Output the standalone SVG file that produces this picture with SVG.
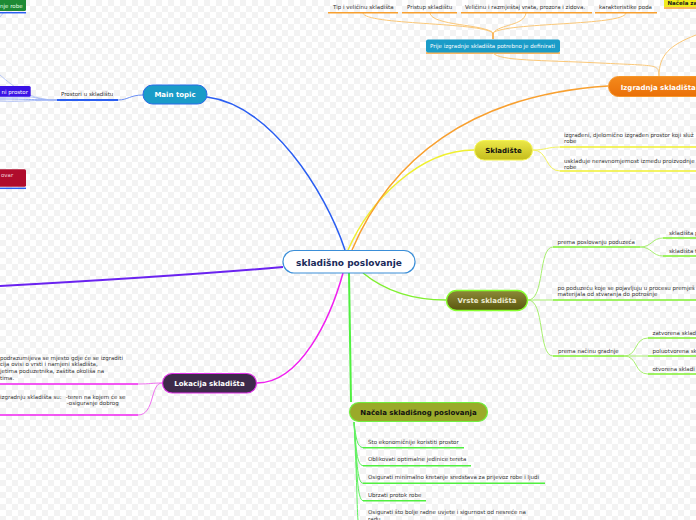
<svg xmlns="http://www.w3.org/2000/svg" width="696" height="520" viewBox="0 0 696 520">
<defs>
<pattern id="grid" width="12" height="12" patternUnits="userSpaceOnUse">
<rect width="12" height="12" fill="#ffffff"/>
<rect x="0" y="0" width="6" height="6" fill="#f3f3f3"/>
<rect x="6" y="6" width="6" height="6" fill="#f3f3f3"/>
</pattern>
<linearGradient id="gYel" x1="0" y1="0" x2="0" y2="1"><stop offset="0" stop-color="#ece848"/><stop offset="1" stop-color="#c4bc1c"/></linearGradient>
<linearGradient id="gOl" x1="0" y1="0" x2="0" y2="1"><stop offset="0" stop-color="#8c8a38"/><stop offset="1" stop-color="#5a560e"/></linearGradient>
<linearGradient id="gOr" x1="0" y1="0" x2="0" y2="1"><stop offset="0" stop-color="#f48a1c"/><stop offset="1" stop-color="#ea7008"/></linearGradient>
</defs>
<style>
.node{font-family:"DejaVu Sans",Verdana,sans-serif;font-weight:bold;font-size:7px}
.t{font-family:"DejaVu Sans",Verdana,sans-serif;font-size:5.5px;fill:#333}
.c{fill:none}
</style>
<rect width="696" height="520" fill="url(#grid)"/>

<g id="connectors">
<!-- main branches -->
<path class="c" d="M345,250 C325,190 270,105 207,97" stroke="#2a5ef2" stroke-width="1.5"/>
<path class="c" d="M283,267 C190,275 90,281 0,286" stroke="#6a22f0" stroke-width="2"/>
<path class="c" d="M348,250 C370,200 420,150 474,150" stroke="#f0f030" stroke-width="1.5"/>
<path class="c" d="M352,250 C390,160 470,95 608,86" stroke="#f8a030" stroke-width="1.5"/>
<path class="c" d="M363,273 C390,295 420,300 446,300" stroke="#80f030" stroke-width="1.5"/>
<path class="c" d="M349,273 L351,402" stroke="#50f040" stroke-width="2"/>
<path class="c" d="M343,273 C330,320 300,383 257,383" stroke="#f020f0" stroke-width="1.5"/>

<!-- Main topic children -->
<path class="c" d="M143,95 C130,95 128,100 118,100" stroke="#6a8ef5" stroke-width="1"/>
<path class="c" d="M57,100 L118,100" stroke="#2a5ef2" stroke-width="2"/>
<path class="c" d="M57,100 C40,100 35,97 30,97 L0,97" stroke="#9ab0f5" stroke-width="0.8"/>
<path class="c" d="M57,100 C35,100 20,102 0,101" stroke="#9ab0f5" stroke-width="0.8"/>
<path class="c" d="M57,100 C35,100 30,99 0,99" stroke="#7a98f5" stroke-width="0.8"/>
<path class="c" d="M57,100 C30,100 15,88 0,75" stroke="#a8bcf5" stroke-width="0.8"/>
<path class="c" d="M0,17 L4,12" stroke="#a8bcf5" stroke-width="0.8"/>
<line x1="0" y1="12.7" x2="26" y2="12.7" stroke="#2a5ef2" stroke-width="1.5"/>
<line x1="0" y1="188.3" x2="26" y2="188.3" stroke="#2a5ef2" stroke-width="1.5"/>

<!-- Izgradnja children -->
<path class="c" d="M363,13 C365,25 480,22 493,33" stroke="#fbc878" stroke-width="1"/>
<path class="c" d="M430,13 C432,26 485,24 493,33" stroke="#fbc878" stroke-width="1"/>
<path class="c" d="M526,13 C524,26 500,24 493,33" stroke="#fbc878" stroke-width="1"/>
<path class="c" d="M626,13 C624,26 505,22 493,33" stroke="#fbc878" stroke-width="1"/>
<path class="c" d="M493,33 L493,39" stroke="#f8a030" stroke-width="1.5"/>
<line x1="328" y1="12.7" x2="398" y2="12.7" stroke="#f8a030" stroke-width="1.5"/>
<line x1="402" y1="12.7" x2="457" y2="12.7" stroke="#f8a030" stroke-width="1.5"/>
<line x1="461" y1="12.7" x2="592" y2="12.7" stroke="#f8a030" stroke-width="1.5"/>
<line x1="595" y1="12.7" x2="657" y2="12.7" stroke="#f8a030" stroke-width="1.5"/>
<line x1="426" y1="53" x2="560" y2="53" stroke="#f8a030" stroke-width="1.5"/>
<line x1="664" y1="8" x2="696" y2="8" stroke="#f8a030" stroke-width="1.5"/>
<path class="c" d="M493,53 C500,61 540,60 600,63 S658,64 659,76" stroke="#fbc878" stroke-width="1"/>
<path class="c" d="M659,76 C659,55 670,45 696,35" stroke="#fbc878" stroke-width="1"/>

<!-- Skladište children -->
<path class="c" d="M533,150 C545,150 548,147 560,147" stroke="#f4f460" stroke-width="1"/>
<path class="c" d="M533,150 C548,150 545,171 560,171" stroke="#f4f460" stroke-width="1"/>
<line x1="560" y1="147" x2="696" y2="147" stroke="#f0f030" stroke-width="1.5"/>
<line x1="560" y1="171" x2="696" y2="171" stroke="#f0f030" stroke-width="1.5"/>

<!-- Vrste children -->
<path class="c" d="M528,300 C545,300 538,247 553,247" stroke="#a8f070" stroke-width="1"/>
<path class="c" d="M528,300 L553,300" stroke="#a8f070" stroke-width="1"/>
<path class="c" d="M528,300 C545,300 538,356 553,356" stroke="#a8f070" stroke-width="1"/>
<line x1="553" y1="247" x2="640" y2="247" stroke="#80f030" stroke-width="1.5"/>
<line x1="553" y1="300" x2="696" y2="300" stroke="#80f030" stroke-width="1.5"/>
<line x1="553" y1="356" x2="624" y2="356" stroke="#80f030" stroke-width="1.5"/>
<path class="c" d="M640,247 C652,247 652,238 663,238" stroke="#a8f070" stroke-width="1"/>
<path class="c" d="M640,247 C652,247 652,256 663,256" stroke="#a8f070" stroke-width="1"/>
<line x1="663" y1="238" x2="696" y2="238" stroke="#80f030" stroke-width="1.5"/>
<line x1="663" y1="256" x2="696" y2="256" stroke="#80f030" stroke-width="1.5"/>
<path class="c" d="M624,356 C638,356 634,338 648,338" stroke="#a8f070" stroke-width="1"/>
<path class="c" d="M624,356 L648,356" stroke="#a8f070" stroke-width="1"/>
<path class="c" d="M624,356 C638,356 634,374 648,374" stroke="#a8f070" stroke-width="1"/>
<line x1="648" y1="338" x2="696" y2="338" stroke="#80f030" stroke-width="1.5"/>
<line x1="648" y1="356" x2="696" y2="356" stroke="#80f030" stroke-width="1.5"/>
<line x1="648" y1="374" x2="696" y2="374" stroke="#80f030" stroke-width="1.5"/>

<!-- Lokacija children -->
<path class="c" d="M138,384 C150,384 152,383 162,383" stroke="#f070f0" stroke-width="1"/>
<path class="c" d="M138,415 C155,415 150,383 162,383" stroke="#f070f0" stroke-width="1"/>
<line x1="0" y1="384" x2="138" y2="384" stroke="#f020f0" stroke-width="1.5"/>
<line x1="0" y1="415" x2="138" y2="415" stroke="#f020f0" stroke-width="1.5"/>

<!-- Načela children -->
<path class="c" d="M354,422 C356,438 357,447 363,447.7" stroke="#60f060" stroke-width="1"/>
<path class="c" d="M354,422 C356,450 357,465 363,465.7" stroke="#60f060" stroke-width="1"/>
<path class="c" d="M354,422 C357,460 357,483 363,483.3" stroke="#60f060" stroke-width="1"/>
<path class="c" d="M354,422 C357,470 357,500 363,500.7" stroke="#60f060" stroke-width="1"/>
<path class="c" d="M354,422 C357,480 357,510 358,520" stroke="#60f060" stroke-width="1"/>
<line x1="363" y1="447.7" x2="464" y2="447.7" stroke="#50f040" stroke-width="1.5"/>
<line x1="363" y1="465.7" x2="471" y2="465.7" stroke="#50f040" stroke-width="1.5"/>
<line x1="363" y1="483.3" x2="545" y2="483.3" stroke="#50f040" stroke-width="1.5"/>
<line x1="363" y1="500.7" x2="426" y2="500.7" stroke="#50f040" stroke-width="1.5"/>
</g>

<g id="central">
<rect x="283" y="250.5" width="132" height="22.5" rx="11" fill="#ffffff" stroke="#3a8ed8" stroke-width="1.2"/>
<text x="349" y="265.5" text-anchor="middle" class="node" style="font-size:9px" fill="#1a2a5a">skladišno poslovanje</text>
</g>

<g id="main-topic">
<rect x="143" y="85" width="64" height="19" rx="9.5" fill="#1a9cc8" stroke="#2a6ae8" stroke-width="1"/>
<text x="175" y="97" text-anchor="middle" class="node" fill="#ffffff">Main topic</text>
</g>
<g id="prostori">
<text x="61" y="96" class="t">Prostori u skladištu</text>
</g>
<g id="node-nje-robe">
<rect x="-5" y="-2" width="31" height="13" rx="1.5" fill="#1e8a34"/>
<text x="0" y="8" class="t" fill="#e8ffe8" style="fill:#e8ffe8">nje robe</text>
</g>
<g id="node-ni-prostor">
<rect x="-5" y="86" width="35.7" height="10.7" rx="1.5" fill="#3a12e6"/>
<text x="1.5" y="94" class="t" style="fill:#ffffff">ni prostor</text>
</g>
<g id="node-ovar">
<rect x="-5" y="169.3" width="31" height="17.4" rx="1.5" fill="#b00c2c"/>
<text x="1" y="176.5" class="t" style="fill:#f4d0d8">ovar</text>
</g>

<g id="izgradnja">
<rect x="608.5" y="76.5" width="110" height="20" rx="10" fill="url(#gOr)" stroke="#f6962a" stroke-width="1"/>
<text x="620.7" y="89.5" class="node" fill="#ffffff">Izgradnja skladišta</text>
</g>
<g id="prije">
<rect x="426" y="39.5" width="134" height="13" rx="2" fill="#1a9cc8"/>
<text x="430" y="48" class="t" style="fill:#ffffff">Prije izgradnje skladišta potrebno je definirati</text>
</g>
<g id="tip"><text x="333" y="8.5" class="t">Tip i veličinu skladišta</text></g>
<g id="pristup"><text x="407" y="8.5" class="t">Pristup skladištu</text></g>
<g id="velicinu"><text x="465" y="8.5" class="t">Veličinu i razmještaj vrata, prozora i zidova.</text></g>
<g id="karakteristike"><text x="599" y="8.5" class="t">karakteristike poda</text></g>
<g id="nacela-za">
<rect x="664" y="-3" width="40" height="10" fill="#f0ec1c"/>
<text x="667.5" y="5" class="t" style="fill:#1a1a1a;font-weight:bold">Načela za</text>
</g>

<g id="skladiste">
<rect x="474.5" y="140.5" width="58" height="19.5" rx="9.7" fill="url(#gYel)" stroke="#f6f650" stroke-width="1"/>
<text x="503.5" y="153" text-anchor="middle" class="node" fill="#111111">Skladište</text>
</g>
<g id="izgradeni">
<text x="564" y="137" class="t">izgrađeni, djelomično izgrađen prostor koji služ</text>
<text x="564" y="143.3" class="t">robe</text>
</g>
<g id="uskladuje">
<text x="564" y="162.5" class="t">usklađuje neravnomjernost između proizvodnje</text>
<text x="564" y="168.5" class="t">robe</text>
</g>

<g id="vrste">
<rect x="446.5" y="290.5" width="81" height="20" rx="10" fill="url(#gOl)" stroke="#88ff30" stroke-width="1.3"/>
<text x="487" y="303" text-anchor="middle" class="node" fill="#ecead0">Vrste skladišta</text>
</g>
<g id="poslovanju"><text x="557.5" y="243.5" class="t">prema poslovanju poduzeća</text></g>
<g id="skl-p"><text x="669" y="234.5" class="t">skladišta p</text></g>
<g id="skl-t"><text x="669" y="253" class="t">skladišta t</text></g>
<g id="poduzecu">
<text x="557.5" y="290" class="t">po poduzeću koje se pojavljuju u procesu premješ</text>
<text x="557.5" y="296" class="t">materijala od stvaranja do potrošnje</text>
</g>
<g id="gradnje"><text x="558" y="352.5" class="t">prema načinu gradnje</text></g>
<g id="zatvorena"><text x="652.5" y="334.5" class="t">zatvorena sklad</text></g>
<g id="poluotvorena"><text x="652.5" y="352.5" class="t">poluotvorena sk</text></g>
<g id="otvorena"><text x="652.5" y="370.5" class="t">otvorena skladi</text></g>

<g id="lokacija">
<rect x="162.5" y="373.5" width="94" height="19.5" rx="9.7" fill="#3d2a4a" stroke="#e030e8" stroke-width="1.2"/>
<text x="209.5" y="386" text-anchor="middle" class="node" fill="#ffffff">Lokacija skladišta</text>
</g>
<g id="lok-opis">
<text x="0" y="359.5" class="t">podrazumijeva se mjesto gdje će se izgraditi</text>
<text x="0" y="366.3" class="t">cija ovisi o vrsti i namjeni skladišta,</text>
<text x="0" y="373.1" class="t">jetima poduzetnika, zaštita okoliša na</text>
<text x="0" y="379.9" class="t">tima.</text>
</g>
<g id="lok-uvjeti">
<text x="0" y="399" class="t">izgradnju skladišta su:</text>
<text x="65.7" y="399" class="t">-teren na kojem će se</text>
<text x="66.7" y="405" class="t">-osiguranje dobrog</text>
</g>

<g id="nacela">
<rect x="349.5" y="402.5" width="138" height="19" rx="9.5" fill="#9aaa2a" stroke="#70f040" stroke-width="1.2"/>
<text x="418.5" y="415" text-anchor="middle" class="node" fill="#111111">Načela skladišnog poslovanja</text>
</g>
<g id="n1"><text x="368" y="443.5" class="t">Što ekonomičnije koristiti prostor</text></g>
<g id="n2"><text x="368" y="461.3" class="t">Oblikovati optimalne jedinice tereta</text></g>
<g id="n3"><text x="368" y="479" class="t">Osigurati minimalno kretanje sredstava za prijevoz robe i ljudi</text></g>
<g id="n4"><text x="368" y="496.5" class="t">Ubrzati protok robe</text></g>
<g id="n5">
<text x="368" y="514" class="t">Osigurati što bolje radne uvjete i sigurnost od nesreće na</text>
<text x="368" y="520.5" class="t">radu</text>
</g>
</svg>
